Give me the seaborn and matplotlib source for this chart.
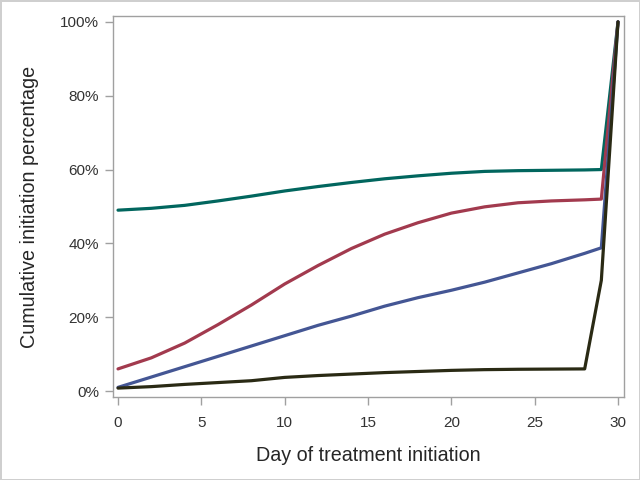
import matplotlib
matplotlib.use("Agg")
import matplotlib.pyplot as plt
import matplotlib.ticker as mticker
import seaborn as sns
import pandas as pd

days = [0, 2, 4, 6, 8, 10, 12, 14, 16, 18, 20, 22, 24, 26, 28, 29, 30]
green_vals = [49, 49.5, 50.3, 51.5, 52.8, 54.2, 55.4, 56.5, 57.5, 58.3, 59, 59.5, 59.7, 59.8, 59.9, 60, 100]
red_vals = [6, 9, 13, 18, 23.3, 29, 34, 38.6, 42.5, 45.6, 48.2, 49.9, 51, 51.5, 51.8, 52, 100]
blue_vals = [1, 3.8, 6.6, 9.4, 12.2, 15, 17.8, 20.3, 23, 25.3, 27.3, 29.5, 32, 34.5, 37.3, 38.8, 100]
black_vals = [0.8, 1.2, 1.8, 2.3, 2.8, 3.7, 4.2, 4.6, 5, 5.3, 5.6, 5.8, 5.9, 5.95, 6, 30, 100]
series_names = ["Green", "Red", "Blue", "Black"]
x_ticks = [0, 5, 10, 15, 20, 25, 30]
y_ticks = [0, 20, 40, 60, 80, 100]

rows = []
for name, vals in zip(series_names, [green_vals, red_vals, blue_vals, black_vals]):
    for d, v in zip(days, vals):
        rows.append({"day": d, "pct": v, "series": name})
df = pd.DataFrame(rows)

sns.set_style("white")
plt.rcParams["font.family"] = ["Liberation Sans", "DejaVu Sans"]

fig = plt.figure(figsize=(6.4, 4.8), dpi=100)
fig.patch.set_facecolor("white")
fig.patch.set_edgecolor("#cfcfcf")
fig.patch.set_linewidth(2)
ax = fig.add_axes([0.1766, 0.173, 0.7984, 0.7937])

palette = {"Green": "#01665E", "Red": "#A23A4E", "Blue": "#445694", "Black": "#2a2a14"}
sns.lineplot(data=df, x="day", y="pct", hue="series", palette=palette,
             hue_order=series_names, linewidth=2.3, ax=ax, legend=False)

ax.set_xlim(-0.3, 30.36)
ax.set_ylim(-1.6, 101.6)
ax.set_xticks(x_ticks)
ax.set_yticks(y_ticks)
ax.yaxis.set_major_formatter(mticker.FuncFormatter(lambda v, p: f"{int(v)}%"))
ax.tick_params(axis="both", length=6, width=1, color="#a0a0a0", labelsize=11,
               labelcolor="#333333", left=True, bottom=True)
ax.tick_params(axis="x", pad=8)
ax.tick_params(axis="y", pad=4)
for s in ax.spines.values():
    s.set_color("#a0a0a0")
    s.set_linewidth(1)
ax.set_xlabel("Day of treatment initiation", fontsize=14.2, labelpad=11)
ax.set_ylabel("Cumulative initiation percentage", fontsize=14.2, labelpad=15)
ax.set_facecolor("white")

fig.savefig("out.png", dpi=100)
